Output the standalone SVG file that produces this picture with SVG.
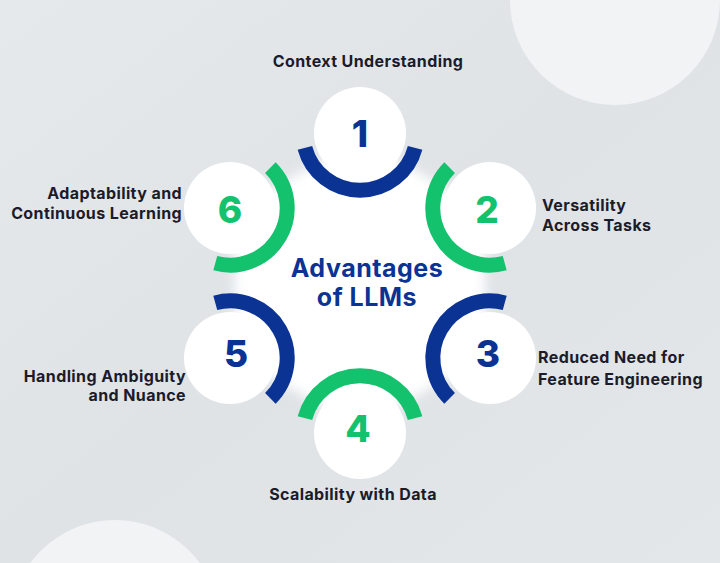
<svg xmlns="http://www.w3.org/2000/svg" width="720" height="563" viewBox="0 0 720 563">
<defs>
<linearGradient id="bg" x1="0" y1="0" x2="1" y2="1"><stop offset="0" stop-color="#e6e9ec"/><stop offset="0.5" stop-color="#dfe3e6"/><stop offset="1" stop-color="#e4e7ea"/></linearGradient>
<filter id="soft" x="-20%" y="-20%" width="140%" height="140%"><feGaussianBlur stdDeviation="6"/></filter>
<path id="arc" d="M 55.1 14.8 A 57 57 0 0 1 -55.1 14.8"/>
</defs>
<style>
.lbl{font-family:Inter,"Noto Sans",sans-serif;font-weight:700;font-size:16px;letter-spacing:0.4px;fill:#1b1b2a}
.num{font-family:Inter,"Noto Sans",sans-serif;font-weight:800;font-size:37px;text-anchor:middle}
.ttl{font-family:Inter,"Noto Sans",sans-serif;font-weight:700;font-size:25px;letter-spacing:0.5px;text-anchor:middle;fill:#0a3394}
.b{fill:#0a3394}.g{fill:#14c26e}
.arcb{fill:none;stroke:#0a3394;stroke-width:15}
.arcg{fill:none;stroke:#14c26e;stroke-width:15}
.c{fill:#fff}
</style>
<rect width="720" height="563" fill="url(#bg)"/>
<circle cx="615" cy="0" r="105" fill="#f1f3f5"/>
<circle cx="115" cy="625" r="105" fill="#f1f3f5"/>
<polygon points="360,140 485,210 485,356 360,428 235,356 235,210" fill="#fff" filter="url(#soft)"/>
<g id="connectors">
<use href="#arc" class="arcb" transform="translate(360,133)"/>
<use href="#arc" class="arcg" transform="translate(490,208) rotate(60)"/>
<use href="#arc" class="arcb" transform="translate(490,358) rotate(120)"/>
<use href="#arc" class="arcg" transform="translate(360,433) rotate(180)"/>
<use href="#arc" class="arcb" transform="translate(230,358) rotate(240)"/>
<use href="#arc" class="arcg" transform="translate(230,208) rotate(300)"/>
</g>
<g id="center"><text x="367" y="277" class="ttl">Advantages</text><text x="367" y="306" class="ttl">of LLMs</text></g>
<g id="n1"><circle cx="360" cy="133" r="46" class="c"/><text x="360" y="147" class="num b">1</text><text x="368" y="67" class="lbl" text-anchor="middle">Context Understanding</text></g>
<g id="n2"><circle cx="490" cy="208" r="46" class="c"/><text x="487" y="223" class="num g">2</text><text x="542" y="211" class="lbl">Versatility</text><text x="542" y="231" class="lbl">Across Tasks</text></g>
<g id="n3"><circle cx="490" cy="358" r="46" class="c"/><text x="488" y="367" class="num b">3</text><text x="538" y="363" class="lbl">Reduced Need for</text><text x="538" y="385" class="lbl">Feature Engineering</text></g>
<g id="n4"><circle cx="360" cy="433" r="46" class="c"/><text x="358" y="442" class="num g">4</text><text x="353" y="500" class="lbl" text-anchor="middle">Scalability with Data</text></g>
<g id="n5"><circle cx="230" cy="358" r="46" class="c"/><text x="236" y="367" class="num b">5</text><text x="186" y="382" class="lbl" text-anchor="end">Handling Ambiguity</text><text x="186" y="401" class="lbl" text-anchor="end">and Nuance</text></g>
<g id="n6"><circle cx="230" cy="208" r="46" class="c"/><text x="230" y="223" class="num g">6</text><text x="182" y="199" class="lbl" text-anchor="end">Adaptability and</text><text x="182" y="219" class="lbl" text-anchor="end">Continuous Learning</text></g>
</svg>
